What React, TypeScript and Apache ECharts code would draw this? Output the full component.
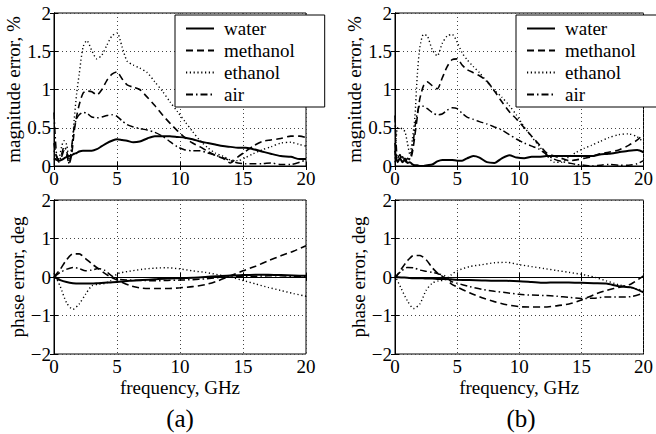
import React, { useEffect, useRef } from "react";
import * as echarts from "echarts";

// frequency grids (GHz)
const magFreq = [0, 0.2, 0.4, 0.6, 0.8, 1.0, 1.2, 1.4, 1.6, 1.8, 2.0, 2.3, 2.6, 3.0, 3.4, 3.8, 4.2, 4.6, 5.0, 5.4, 5.8, 6.3, 6.8, 7.4, 8.0, 8.6, 9.2, 9.8, 10.4, 11, 11.6, 12.2, 12.8, 13.4, 14, 14.6, 15.2, 15.8, 16.5, 17.2, 18, 18.8, 19.5, 20];
const phaseFreq = [0, 0.5, 1, 1.5, 2, 2.5, 3, 3.5, 4, 4.5, 5, 6, 7, 8, 9, 10, 11, 12, 13, 14, 15, 16, 17, 18, 19, 20];

const seriesNames = ["water", "methanol", "ethanol", "air"];
const xTicks = [0, 5, 10, 15, 20];
const panelLabels = ["(a)", "(b)"];

// (a) magnitude error, %
const magWaterA = [0.1, 0.08, 0.07, 0.08, 0.1, 0.12, 0.13, 0.14, 0.16, 0.17, 0.19, 0.2, 0.2, 0.2, 0.22, 0.26, 0.3, 0.33, 0.35, 0.34, 0.33, 0.31, 0.32, 0.36, 0.39, 0.39, 0.39, 0.38, 0.37, 0.35, 0.32, 0.3, 0.28, 0.26, 0.25, 0.24, 0.24, 0.22, 0.19, 0.16, 0.13, 0.12, 0.09, 0.09];
const magMethanolA = [0.3, 0.12, 0.08, 0.12, 0.2, 0.15, 0.03, 0.15, 0.45, 0.65, 0.8, 0.95, 0.98, 0.97, 0.93, 1.0, 1.12, 1.2, 1.23, 1.14, 1.06, 1.03, 1.0, 0.9, 0.79, 0.67, 0.56, 0.46, 0.37, 0.3, 0.25, 0.19, 0.14, 0.1, 0.04, 0.12, 0.19, 0.26, 0.32, 0.34, 0.36, 0.39, 0.39, 0.37];
const magEthanolA = [0.2, 0.08, 0.1, 0.25, 0.33, 0.28, 0.1, 0.2, 0.6, 0.95, 1.2, 1.55, 1.64, 1.51, 1.4, 1.45, 1.58, 1.7, 1.74, 1.56, 1.37, 1.32, 1.28, 1.22, 1.1, 0.98, 0.84, 0.71, 0.58, 0.45, 0.33, 0.24, 0.17, 0.13, 0.08, 0.07, 0.11, 0.16, 0.21, 0.25, 0.3, 0.31, 0.28, 0.26];
const magAirA = [0.7, 0.15, 0.05, 0.15, 0.25, 0.2, 0.03, 0.25, 0.51, 0.62, 0.67, 0.7, 0.69, 0.64, 0.63, 0.64, 0.66, 0.67, 0.65, 0.59, 0.54, 0.51, 0.49, 0.47, 0.44, 0.39, 0.32, 0.25, 0.21, 0.2, 0.2, 0.17, 0.14, 0.11, 0.07, 0.04, 0.03, 0.03, 0.03, 0.04, 0.02, 0.02, 0.05, 0.08];

// (b) magnitude error, %
const magWaterB = [0.2, 0.05, 0.1, 0.05, 0.08, 0.04, 0.05, 0.02, 0.01, 0.01, 0.0, 0.0, 0.01, 0.02, 0.06, 0.08, 0.08, 0.08, 0.07, 0.07, 0.1, 0.13, 0.11, 0.05, 0.04, 0.1, 0.14, 0.11, 0.1, 0.12, 0.12, 0.13, 0.13, 0.13, 0.13, 0.13, 0.13, 0.13, 0.15, 0.16, 0.18, 0.2, 0.21, 0.18];
const magMethanolB = [0.3, 0.05, 0.1, 0.12, 0.05, 0.1, 0.08, 0.18, 0.4, 0.65, 0.88, 1.05, 1.1, 1.05, 1.01, 1.15, 1.3, 1.39, 1.4, 1.32, 1.26, 1.22, 1.18, 1.11, 0.98, 0.84, 0.71, 0.61, 0.5, 0.39, 0.28, 0.17, 0.13, 0.1, 0.07, 0.08, 0.1, 0.12, 0.16, 0.18, 0.21, 0.27, 0.34, 0.42];
const magEthanolB = [0.05, 0.5, 0.5, 0.48, 0.45, 0.3, 0.15, 0.35, 0.64, 1.2, 1.55, 1.72, 1.7, 1.52, 1.44, 1.6, 1.7, 1.72, 1.62, 1.48, 1.39, 1.3, 1.22, 1.1, 0.99, 0.9, 0.79, 0.66, 0.51, 0.38, 0.26, 0.14, 0.05, 0.05, 0.12, 0.18, 0.23, 0.27, 0.32, 0.37, 0.41, 0.42, 0.38, 0.31];
const magAirB = [0.66, 0.1, 0.15, 0.05, 0.1, 0.05, 0.1, 0.22, 0.5, 0.7, 0.79, 0.78, 0.75, 0.7, 0.67, 0.68, 0.73, 0.76, 0.75, 0.69, 0.64, 0.61, 0.58, 0.55, 0.51, 0.47, 0.41, 0.35, 0.3, 0.26, 0.22, 0.15, 0.09, 0.06, 0.04, 0.02, 0.01, 0.0, 0.01, 0.02, 0.01, 0.01, 0.03, 0.07];

// (a) phase error, deg
const phWaterA = [0, -0.08, -0.13, -0.16, -0.17, -0.17, -0.17, -0.16, -0.15, -0.14, -0.13, -0.1, -0.08, -0.06, -0.04, -0.03, -0.02, 0.0, 0.02, 0.04, 0.05, 0.06, 0.06, 0.05, 0.04, 0.03];
const phMethanolA = [0, 0.2, 0.45, 0.6, 0.6, 0.48, 0.34, 0.22, 0.1, 0.0, -0.08, -0.22, -0.29, -0.3, -0.3, -0.28, -0.25, -0.2, -0.1, 0.03, 0.16, 0.28, 0.42, 0.55, 0.67, 0.81];
const phEthanolA = [0.1, -0.25, -0.67, -0.84, -0.7, -0.45, -0.23, -0.19, -0.17, -0.1, 0.08, 0.15, 0.2, 0.23, 0.24, 0.21, 0.16, 0.12, 0.06, 0.0, -0.09, -0.18, -0.27, -0.35, -0.43, -0.5];
const phAirA = [0, 0.12, 0.2, 0.25, 0.22, 0.16, 0.18, 0.22, 0.18, 0.05, -0.05, -0.08, -0.09, -0.1, -0.09, -0.08, -0.07, -0.05, -0.02, 0.0, 0.01, 0.02, 0.03, 0.03, 0.02, 0.02];

// (b) phase error, deg
const phWaterB = [0, -0.01, -0.02, -0.03, -0.03, -0.04, -0.04, -0.05, -0.05, -0.06, -0.07, -0.08, -0.09, -0.1, -0.1, -0.11, -0.13, -0.15, -0.14, -0.14, -0.15, -0.16, -0.17, -0.24, -0.27, -0.4];
const phMethanolB = [-0.04, 0.2, 0.42, 0.56, 0.56, 0.45, 0.24, 0.08, -0.02, -0.17, -0.26, -0.41, -0.54, -0.64, -0.72, -0.77, -0.78, -0.78, -0.75, -0.7, -0.6, -0.46, -0.35, -0.27, -0.18, 0.03];
const phEthanolB = [0.04, -0.3, -0.62, -0.82, -0.7, -0.35, -0.16, -0.1, -0.08, 0.05, 0.16, 0.27, 0.32, 0.37, 0.38, 0.32, 0.27, 0.22, 0.17, 0.12, 0.07, 0.0, -0.1, -0.2, -0.28, -0.35];
const phAirB = [0, 0.15, 0.25, 0.24, 0.18, 0.15, 0.12, 0.08, 0.03, -0.11, -0.16, -0.25, -0.32, -0.37, -0.41, -0.45, -0.47, -0.48, -0.5, -0.53, -0.56, -0.55, -0.52, -0.52, -0.51, -0.42];

const FONT = '"Liberation Serif", "Times New Roman", serif';
const FS = 19;

const lineStyles: any[] = [
  { width: 2, type: "solid" },
  { width: 1.6, type: [7, 4] },
  { width: 1.4, type: [1.2, 2.6] },
  { width: 1.5, type: [7, 3, 1.5, 3] },
];

function zip(xs: number[], ys: number[]) {
  return xs.map((x, i) => [x, ys[i]]);
}

export default function App() {
  const ref = useRef<HTMLDivElement>(null);
  useEffect(() => {
    if (!ref.current) return;
    const chart = echarts.init(ref.current, null, { renderer: "svg" });

    const grids = [
      { left: 54, top: 13, width: 252, height: 153 },
      { left: 54, top: 200, width: 252, height: 154 },
      { left: 395, top: 13, width: 252, height: 153 },
      { left: 395, top: 200, width: 252, height: 154 },
    ].map((g) => ({ ...g, show: true, borderColor: "#000", borderWidth: 1, backgroundColor: "#fff" }));

    const isPhase = (i: number) => i === 1 || i === 3;

    const splitLine = { show: true, lineStyle: { color: "#444", type: [1, 3], width: 1 } };
    const labelStyle = { fontFamily: FONT, fontSize: FS, color: "#000" };

    const xAxes: any[] = [];
    const yAxes: any[] = [];
    for (let g = 0; g < 4; g++) {
      xAxes.push({
        type: "value", gridIndex: g, min: 0, max: 20, interval: 5,
        axisLine: { show: true, lineStyle: { color: "#000", width: 1 } },
        axisTick: { show: true, inside: true, length: 4, lineStyle: { color: "#000" } },
        axisLabel: { ...labelStyle, margin: 3, formatter: (v: number) => (xTicks.includes(v) ? String(v) : "") },
        splitLine,
        name: isPhase(g) ? "frequency, GHz" : "",
        nameLocation: "middle",
        nameGap: 24,
        nameTextStyle: { fontFamily: FONT, fontSize: FS, color: "#000" },
      });
      yAxes.push({
        type: "value", gridIndex: g,
        min: isPhase(g) ? -2 : 0, max: 2, interval: isPhase(g) ? 1 : 0.5,
        axisLine: { show: true, lineStyle: { color: "#000", width: 1 } },
        axisTick: { show: true, inside: true, length: 4, lineStyle: { color: "#000" } },
        axisLabel: { ...labelStyle, margin: 3, formatter: (v: number) => String(v).replace("-", "\u2212") },
        splitLine,
        name: isPhase(g) ? "phase error, deg" : "magnitude error, %",
        nameLocation: "middle",
        nameGap: 25,
        nameTextStyle: { fontFamily: FONT, fontSize: FS, color: "#000" },
      });
    }
    // opposite-side tick marks
    for (let g = 0; g < 4; g++) {
      xAxes.push({
        type: "value", gridIndex: g, position: "top", min: 0, max: 20, interval: 5,
        axisLine: { show: true, lineStyle: { color: "#000" } },
        axisTick: { show: true, inside: true, length: 4, lineStyle: { color: "#000" } },
        axisLabel: { show: false }, splitLine: { show: false },
      });
      yAxes.push({
        type: "value", gridIndex: g, position: "right",
        min: isPhase(g) ? -2 : 0, max: 2, interval: isPhase(g) ? 1 : 0.5,
        axisLine: { show: true, lineStyle: { color: "#000" } },
        axisTick: { show: true, inside: true, length: 4, lineStyle: { color: "#000" } },
        axisLabel: { show: false }, splitLine: { show: false },
      });
    }

    const panels = [
      { g: 0, x: magFreq, data: [magWaterA, magMethanolA, magEthanolA, magAirA] },
      { g: 1, x: phaseFreq, data: [phWaterA, phMethanolA, phEthanolA, phAirA] },
      { g: 2, x: magFreq, data: [magWaterB, magMethanolB, magEthanolB, magAirB] },
      { g: 3, x: phaseFreq, data: [phWaterB, phMethanolB, phEthanolB, phAirB] },
    ];

    const series: any[] = [];
    panels.forEach((p) => {
      p.data.forEach((vals, k) => {
        series.push({
          type: "line",
          name: seriesNames[k],
          xAxisIndex: p.g,
          yAxisIndex: p.g,
          data: zip(p.x, vals),
          symbol: "none",
          showSymbol: false,
          smooth: 0.25,
          lineStyle: { color: "#000", ...lineStyles[k] },
          itemStyle: { color: "#000" },
          z: 5 - k,
        });
      });
    });

    const legendBase = {
      orient: "vertical",
      top: 15,
      padding: [4, 30, 3, 10],
      itemWidth: 28,
      itemHeight: 14,
      itemGap: 3,
      borderColor: "#000",
      borderWidth: 1,
      backgroundColor: "#fff",
      selectedMode: false,
      data: seriesNames,
      itemStyle: { opacity: 0, color: "rgba(0,0,0,0)", borderWidth: 0 },
      textStyle: { fontFamily: FONT, fontSize: FS, color: "#000", lineHeight: 18, padding: [0, 0, 0, 5] },
    };

    chart.setOption({
      animation: false,
      backgroundColor: "#fff",
      grid: grids,
      xAxis: xAxes,
      yAxis: yAxes,
      series,
      legend: [
        { ...legendBase, left: 175 },
        { ...legendBase, left: 516 },
      ],
      graphic: panelLabels.map((t, i) => ({
        type: "text",
        x: i === 0 ? 180 : 521,
        y: 418,
        style: { text: t, font: `25px ${FONT}`, fill: "#000", textAlign: "center", textVerticalAlign: "middle" },
      })),
    });

    return () => chart.dispose();
  }, []);

  return (
    <div
      ref={ref}
      style={{ position: "fixed", left: 0, top: 0, width: 656, height: 434, background: "#fff" }}
    />
  );
}
